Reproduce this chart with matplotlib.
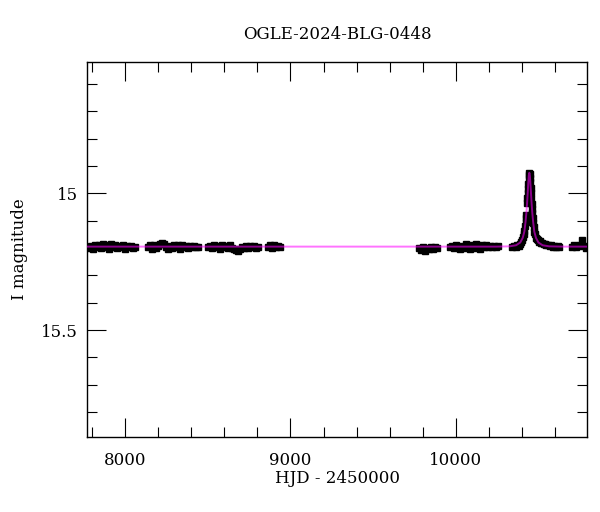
"""OGLE light curve plot: I magnitude vs HJD with the microlensing model."""

import matplotlib
matplotlib.use("Agg")
import matplotlib.pyplot as plt
from matplotlib.ticker import MultipleLocator, FuncFormatter

# Observing seasons (HJD - 2450000) and I magnitudes
season1_t = [7784, 7796, 7808, 7820, 7832, 7844, 7856, 7868, 7880, 7892, 7904, 7916,
             7928, 7940, 7952, 7964, 7976, 7988, 8000, 8012, 8024, 8036, 8048, 8060]
season1_mag = [15.200, 15.192, 15.203, 15.190, 15.198, 15.188, 15.201, 15.186, 15.197, 15.190,
               15.202, 15.185, 15.196, 15.188, 15.200, 15.191, 15.197, 15.189, 15.203, 15.192,
               15.198, 15.194, 15.199, 15.196]

season2_t = [8140, 8152, 8164, 8176, 8188, 8200, 8212, 8224, 8236, 8248, 8260, 8272, 8284,
             8296, 8308, 8320, 8332, 8344, 8356, 8368, 8380, 8392, 8404, 8416, 8428, 8440]
season2_mag = [15.197, 15.190, 15.202, 15.188, 15.199, 15.192, 15.186, 15.180, 15.184, 15.198,
               15.203, 15.191, 15.200, 15.188, 15.197, 15.190, 15.202, 15.189, 15.196, 15.191,
               15.199, 15.192, 15.197, 15.194, 15.198, 15.195]

season3_t = [8502, 8514, 8526, 8538, 8550, 8562, 8574, 8586, 8598, 8610, 8622, 8634, 8646,
             8658, 8670, 8682, 8694, 8706, 8718, 8730, 8742, 8754, 8766, 8778, 8790, 8802]
season3_mag = [15.196, 15.191, 15.200, 15.189, 15.198, 15.192, 15.202, 15.188, 15.197, 15.191,
               15.201, 15.190, 15.199, 15.204, 15.208, 15.210, 15.203, 15.195, 15.199, 15.192,
               15.200, 15.193, 15.198, 15.194, 15.199, 15.196]

season4_t = [8866, 8878, 8890, 8902, 8914, 8926, 8934]
season4_mag = [15.196, 15.188, 15.199, 15.190, 15.197, 15.192, 15.195]

season5_t = [9778, 9790, 9802, 9814, 9826, 9838, 9850, 9862, 9874, 9884]
season5_mag = [15.200, 15.206, 15.196, 15.210, 15.200, 15.204, 15.197, 15.203, 15.198, 15.201]

season6_t = [9966, 9978, 9990, 10002, 10014, 10026, 10038, 10050, 10062, 10074, 10086, 10098,
             10110, 10122, 10134, 10146, 10158, 10170, 10182, 10194, 10206, 10218, 10230,
             10242, 10252]
season6_mag = [15.197, 15.191, 15.201, 15.189, 15.198, 15.204, 15.192, 15.200, 15.187, 15.198,
               15.203, 15.190, 15.199, 15.186, 15.197, 15.202, 15.190, 15.198, 15.188, 15.196,
               15.192, 15.198, 15.191, 15.196, 15.194]

# 2024 season with the event
event_t = [10340, 10350, 10360, 10370, 10380, 10388, 10395, 10400, 10405, 10409, 10413, 10417,
           10420, 10423, 10425, 10429, 10431, 10433, 10435, 10437, 10439, 10441, 10443, 10445,
           10447, 10449, 10451, 10453, 10455, 10457, 10459, 10461, 10464, 10467, 10470, 10474,
           10478, 10483, 10488, 10494, 10500, 10507, 10514, 10522, 10530, 10538, 10546, 10555,
           10565, 10575, 10585, 10595, 10605, 10615, 10625]
event_mag = [15.197, 15.193, 15.196, 15.190, 15.191, 15.184, 15.178, 15.172, 15.160, 15.150,
             15.138, 15.120, 15.105, 15.090, 15.080, 15.035, 15.018, 15.000, 14.985, 14.965,
             14.948, 14.935, 14.925, 14.930, 14.945, 14.960, 14.980, 15.000, 15.020, 15.040,
             15.058, 15.072, 15.090, 15.110, 15.125, 15.140, 15.150, 15.162, 15.168, 15.172,
             15.178, 15.175, 15.183, 15.180, 15.186, 15.184, 15.190, 15.188, 15.193, 15.190,
             15.196, 15.193, 15.197, 15.192, 15.196]

season8_t = [10702, 10714, 10726, 10738, 10750, 10760, 10774, 10786, 10796]
season8_mag = [15.196, 15.190, 15.197, 15.192, 15.189, 15.172, 15.192, 15.199, 15.195]

# Model curve (flat baseline with the single-lens bump)
model_t = [7770, 10243, 10323, 10363, 10388, 10403, 10413, 10420, 10425, 10429, 10433, 10437,
           10440, 10443, 10446, 10449, 10453, 10457, 10461, 10466, 10473, 10483, 10498,
           10523, 10563, 10643, 10800]
model_mag = [15.195, 15.195, 15.194, 15.190, 15.180, 15.163, 15.140, 15.105, 15.072, 15.040,
             15.000, 14.958, 14.935, 14.925, 14.935, 14.958, 15.000, 15.040, 15.072, 15.105,
             15.140, 15.163, 15.180, 15.190, 15.194, 15.195, 15.195]

seasons = [
    (season1_t, season1_mag),
    (season2_t, season2_mag),
    (season3_t, season3_mag),
    (season4_t, season4_mag),
    (season5_t, season5_mag),
    (season6_t, season6_mag),
    (event_t, event_mag),
    (season8_t, season8_mag),
]

plt.rcParams['font.family'] = 'DejaVu Serif'

fig = plt.figure(figsize=(6.0, 5.12), dpi=100)
ax = fig.add_axes([0.1455, 0.147, 0.8333, 0.7325])

for t, mag in seasons:
    ax.errorbar(t, mag, yerr=0.010, fmt='s', color='black', ms=5,
                elinewidth=2.5, capsize=0, zorder=2)

ax.plot(model_t, model_mag, color='magenta', linewidth=1.4, alpha=0.55, zorder=3)

ax.set_xlim(7773, 10793)
ax.set_ylim(15.890, 14.519)

ax.xaxis.set_major_locator(MultipleLocator(1000))
ax.xaxis.set_minor_locator(MultipleLocator(200))
ax.yaxis.set_major_locator(MultipleLocator(0.5))
ax.yaxis.set_minor_locator(MultipleLocator(0.1))
ax.yaxis.set_major_formatter(FuncFormatter(lambda v, p: f'{v:g}'))

ax.tick_params(which='both', direction='in', top=True, right=True,
               width=0.8, labelsize=12)
ax.tick_params(which='major', length=13.5, pad=11)
ax.tick_params(which='minor', length=7)
ax.tick_params(axis='y', which='major', pad=7)
for s in ax.spines.values():
    s.set_linewidth(1.0)

ax.set_title('OGLE-2024-BLG-0448', fontsize=12, pad=16)
ax.set_xlabel('HJD - 2450000', fontsize=12)
ax.set_ylabel('I magnitude', fontsize=12)
# label anchors: top edge of xlabel, right edge of rotated ylabel
ax.xaxis.set_label_coords(0.5, -0.089)
ax.yaxis.set_label_coords(-0.119, 0.5)

fig.savefig('out.png', dpi=100)
plt.close(fig)
